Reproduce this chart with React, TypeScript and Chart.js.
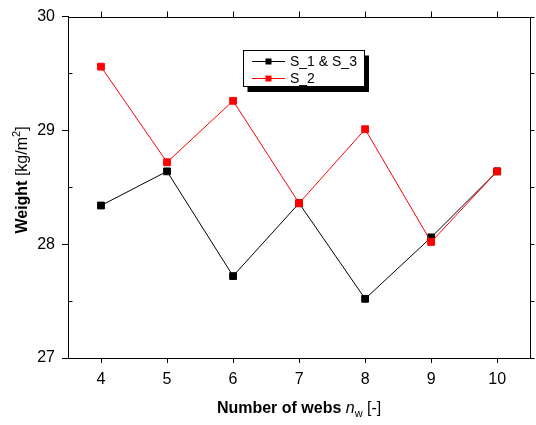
import React, { useEffect, useRef } from 'react';
import { Chart, registerables } from 'chart.js';

Chart.register(...registerables);

const categories = ['4', '5', '6', '7', '8', '9', '10'];
const s13Values = [28.34, 28.64, 27.72, 28.36, 27.52, 28.06, 28.64];
const s2Values = [29.56, 28.72, 29.26, 28.36, 29.01, 28.02, 28.64];
const yMajorTicks = [27, 28, 29, 30];
const yMinorTicks = [27.5, 28.5, 29.5];
const seriesNames = ['S_1 & S_3', 'S_2'];
const seriesColors = ['#000000', '#ff0000'];

const FONT = '"Liberation Sans", Arial, sans-serif';

type Seg = { text: string; font: string; dy?: number };

function drawSegs(ctx: CanvasRenderingContext2D, segs: Seg[], cx: number, y: number) {
  let total = 0;
  const widths = segs.map((s) => {
    ctx.font = s.font;
    const w = ctx.measureText(s.text).width;
    total += w;
    return w;
  });
  let x = cx - total / 2;
  ctx.textAlign = 'left';
  ctx.textBaseline = 'alphabetic';
  segs.forEach((s, i) => {
    ctx.font = s.font;
    ctx.fillText(s.text, x, y + (s.dy || 0));
    x += widths[i];
  });
}

const framePlugin = {
  id: 'framePlugin',
  afterDraw(chart: any) {
    const { ctx, chartArea } = chart;
    const xs = chart.scales.x;
    const ys = chart.scales.y;
    const L = chartArea.left;
    const R = chartArea.right;
    const T = chartArea.top;
    const B = chartArea.bottom;
    const a = (v: number) => Math.round(v) + 0.5;
    ctx.save();
    ctx.strokeStyle = '#000';
    ctx.lineWidth = 1;
    ctx.beginPath();
    // top and right frame
    ctx.moveTo(a(L), a(T));
    ctx.lineTo(a(R), a(T));
    ctx.lineTo(a(R), a(B));
    // top ticks
    categories.forEach((_, i) => {
      const x = a(xs.getPixelForValue(i));
      ctx.moveTo(x, a(T));
      ctx.lineTo(x, a(T) - 6);
    });
    // right ticks
    [...yMajorTicks, ...yMinorTicks].forEach((v) => {
      const y = a(ys.getPixelForValue(v));
      ctx.moveTo(a(R), y);
      ctx.lineTo(a(R) + 4, y);
    });
    // left minor ticks (inside)
    yMinorTicks.forEach((v) => {
      const y = a(ys.getPixelForValue(v));
      ctx.moveTo(a(L), y);
      ctx.lineTo(a(L) + 4, y);
    });
    ctx.stroke();

    // legend
    const bx = 243.5;
    const by = 50.5;
    const bw = 121;
    const bh = 36;
    ctx.fillStyle = '#000';
    ctx.fillRect(bx + 4, by + 5, bw + 0.5, bh + 0.5);
    ctx.fillStyle = '#fff';
    ctx.fillRect(bx, by, bw, bh);
    ctx.strokeRect(bx, by, bw, bh);
    const rows = [61.5, 78.5];
    seriesNames.forEach((name, i) => {
      const y = rows[i];
      ctx.strokeStyle = seriesColors[i];
      ctx.beginPath();
      ctx.moveTo(252, y);
      ctx.lineTo(285, y);
      ctx.stroke();
      ctx.fillStyle = seriesColors[i];
      ctx.fillRect(265.5, y - 3, 6, 6);
      ctx.fillStyle = '#000';
      ctx.font = '14px ' + FONT;
      ctx.textAlign = 'left';
      ctx.textBaseline = 'middle';
      ctx.fillText(name, 290, y + 0.5);
    });

    // axis titles
    ctx.fillStyle = '#000';
    drawSegs(
      ctx,
      [
        { text: 'Number of webs ', font: 'bold 16px ' + FONT },
        { text: 'n', font: 'italic 16px ' + FONT },
        { text: 'w', font: '11px ' + FONT, dy: 4 },
        { text: ' [-]', font: '16px ' + FONT },
      ],
      (L + R) / 2,
      413
    );
    ctx.save();
    ctx.translate(27, 180);
    ctx.rotate(-Math.PI / 2);
    drawSegs(
      ctx,
      [
        { text: 'Weight', font: 'bold 16px ' + FONT },
        { text: ' [kg/m', font: '16px ' + FONT },
        { text: '2', font: '11px ' + FONT, dy: -7 },
        { text: ']', font: '16px ' + FONT },
      ],
      0,
      0
    );
    ctx.restore();
    ctx.restore();
  },
};

export default function App() {
  const ref = useRef<HTMLCanvasElement | null>(null);
  useEffect(() => {
    document.body.style.margin = '0';
    if (!ref.current) return;
    const chart = new Chart(ref.current, {
      type: 'line',
      data: {
        labels: categories,
        datasets: [
          {
            label: seriesNames[0],
            data: s13Values,
            borderColor: seriesColors[0],
            backgroundColor: seriesColors[0],
            borderWidth: 1,
            pointStyle: 'rect',
            pointRadius: 4.8,
            pointBorderWidth: 1,
            tension: 0,
            order: 1,
          },
          {
            label: seriesNames[1],
            data: s2Values,
            borderColor: seriesColors[1],
            backgroundColor: seriesColors[1],
            borderWidth: 1,
            pointStyle: 'rect',
            pointRadius: 4.8,
            pointBorderWidth: 1,
            tension: 0,
            order: 0,
          },
        ],
      },
      options: {
        animation: false,
        responsive: false,
        devicePixelRatio: 1,
        layout: { padding: { top: 16, right: 4, left: 0, bottom: 0 } },
        plugins: { legend: { display: false }, tooltip: { enabled: false } },
        scales: {
          x: {
            type: 'category',
            offset: true,
            grid: {
              offset: false,
              drawOnChartArea: false,
              drawTicks: true,
              tickLength: 5,
              color: '#000',
            },
            border: { display: true, color: '#000', width: 1 },
            ticks: {
              color: '#000',
              font: { family: FONT, size: 16 },
              padding: 7,
              maxRotation: 0,
            },
            afterFit: (s: any) => {
              s.height = 67;
            },
          },
          y: {
            type: 'linear',
            min: 27,
            max: 30,
            grid: {
              drawOnChartArea: false,
              drawTicks: true,
              tickLength: 6,
              color: '#000',
            },
            border: { display: true, color: '#000', width: 1 },
            ticks: {
              color: '#000',
              font: { family: FONT, size: 16 },
              padding: 7,
            },
            afterBuildTicks: (s: any) => {
              s.ticks = yMajorTicks.map((v) => ({ value: v }));
            },
            afterFit: (s: any) => {
              s.width = 68;
            },
          },
        },
      },
      plugins: [framePlugin],
    });
    return () => chart.destroy();
  }, []);
  return (
    <div style={{ width: 536, height: 425 }}>
      <canvas ref={ref} width={536} height={425} style={{ display: 'block' }} />
    </div>
  );
}
